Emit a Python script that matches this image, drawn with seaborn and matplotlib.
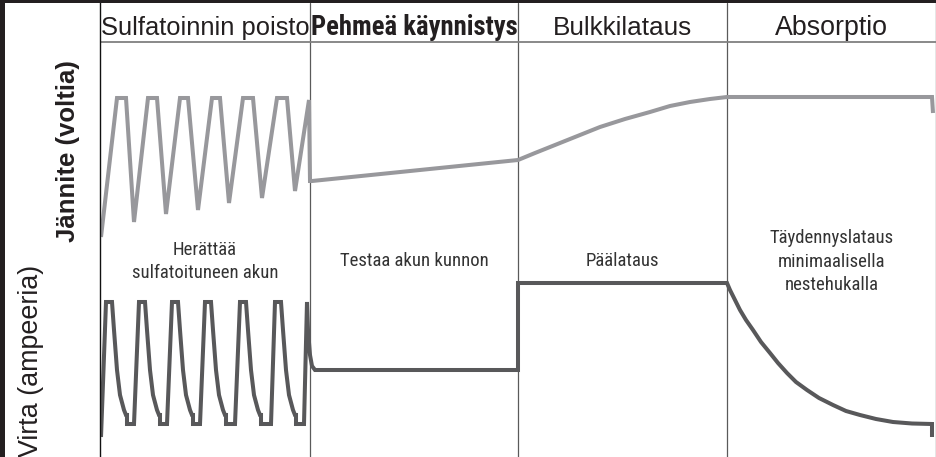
import os
import numpy as np
import pandas as pd
import matplotlib
matplotlib.use("Agg")
import matplotlib.pyplot as plt
import seaborn as sns
from matplotlib.patches import Rectangle
from matplotlib import font_manager as fm

# ---------------- data ----------------
phases = ["Sulfatoinnin poisto", "Pehmeä käynnistys", "Bulkkilataus", "Absorptio"]
phase_bold = [False, True, False, False]
phase_edges = [0, 210, 418, 627, 836]

# Voltage (relative level) over time (relative units)
volt_t = [1, 17, 26, 34, 48, 57, 66, 80, 88, 98, 112, 120, 129, 143, 153, 162,
          177, 187, 195, 209, 210, 212,
          418, 435, 450, 475, 500, 525, 550, 570, 590, 610, 627,
          832, 833]
volt_v = [220, 359, 359, 235, 359, 359, 243, 359, 359, 247, 359, 359, 254, 359, 359, 259,
          359, 359, 266, 357, 276, 276,
          297, 304, 310, 320, 330, 338, 345, 351, 355, 358, 360,
          360, 344]

# Current (relative level) over time
curr_t = [1,
          6, 12, 14, 17, 20, 24, 26, 27, 27, 34,
          39, 45, 47, 50, 53, 57, 59, 60, 60, 67,
          72, 78, 80, 83, 86, 90, 92, 93, 93, 100,
          105, 111, 113, 116, 119, 123, 125, 126, 126, 135,
          140, 146, 148, 151, 154, 158, 160, 161, 161, 171,
          175, 181, 183, 186, 189, 193, 195, 196, 196, 204,
          207, 208, 210, 212, 215, 418, 418, 627,
          630, 635, 640, 646, 653, 661, 670, 678, 687, 696, 707, 719, 733,
          746, 760, 776, 793, 812, 832, 832]
curr_v = [20,
          155, 155, 127, 87, 62, 47, 42, 42, 33, 33,
          155, 155, 127, 87, 62, 47, 42, 42, 33, 33,
          155, 155, 127, 87, 62, 47, 42, 42, 33, 33,
          155, 155, 127, 87, 62, 47, 42, 42, 33, 33,
          155, 155, 127, 87, 62, 47, 42, 42, 33, 33,
          155, 155, 127, 87, 62, 47, 42, 42, 33, 33,
          155, 127, 102, 91, 87, 87, 174, 174,
          167, 157, 147, 137, 127, 115, 104, 94, 84, 75, 67, 59, 52,
          46, 42, 38, 35, 33.5, 33, 20]

notes = [["Herättää", "sulfatoituneen akun"],
         ["Testaa akun kunnon"],
         ["Päälataus"],
         ["Täydennyslataus", "minimaalisella", "nestehukalla"]]
note_baselines = [[202, 179], [191], [191], [214, 190, 167]]

y_label_volt = "Jännite (voltia)"
y_label_curr = "Virta (ampeeria)"

# ---------------- fonts ----------------
sns.set_style("white")
plt.rcParams['font.family'] = ['Liberation Sans', 'DejaVu Sans']


def find_condensed(bold):
    prefs = ['liberationsansnarrow', 'arialnarrow', 'robotocondensed',
             'notosanscondensed', 'dejavusanscondensed', 'opensanscondensed']
    bad_common = ['italic', 'oblique', 'light', 'thin', 'medium', 'black',
                  'semibold', 'extrabold', 'demibold', 'heavy']
    found = {}
    for f in fm.fontManager.ttflist:
        base = os.path.basename(f.fname).lower().replace('-', '').replace('_', '').replace(' ', '')
        if any(b in base for b in bad_common):
            continue
        isbold = 'bold' in base
        if isbold != bold:
            continue
        for i, p in enumerate(prefs):
            if p in base:
                found.setdefault(i, f.fname)
    if found:
        return fm.FontProperties(fname=found[min(found)])
    return fm.FontProperties(family='Liberation Sans', weight='bold' if bold else 'normal')


COND = find_condensed(False)
COND_B = find_condensed(True)
REG = fm.FontProperties(family='Liberation Sans')
REG_B = fm.FontProperties(family='Liberation Sans', weight='bold')
TXT = '#231f20'

W, H = 937, 457
fig = plt.figure(figsize=(W / 100, H / 100), dpi=100)
fig.patch.set_facecolor('white')
ax = fig.add_axes([100 / W, 0, 836 / W, 454 / H])
ax.set_xlim(0, 836)
ax.set_ylim(0, 454)

volt_df = pd.DataFrame({"t": volt_t, "v": volt_v})
curr_df = pd.DataFrame({"t": curr_t, "v": curr_v})

sns.lineplot(data=volt_df, x="t", y="v", sort=False, estimator=None, ax=ax,
             color='#98989c', lw=2.9, solid_joinstyle='miter', solid_capstyle='butt')
sns.lineplot(data=curr_df, x="t", y="v", sort=False, estimator=None, ax=ax,
             color='#58585a', lw=2.9, solid_joinstyle='miter', solid_capstyle='butt')

for e in phase_edges[1:-1]:
    ax.axvline(e, color='#5a5a5a', lw=0.9, zorder=1)
ax.axhline(415, color='#808080', lw=1.3, zorder=1)

renderer = fig.canvas.get_renderer()


def fit(artist, target, vertical=False):
    bb = artist.get_window_extent(renderer)
    cur = bb.height if vertical else bb.width
    artist.set_fontsize(artist.get_fontsize() * target / cur)


header_w = [209, 207, 140, 113]
note_w = {"Testaa akun kunnon": 150, "sulfatoituneen akun": 145, "Täydennyslataus": 127}

for i, name in enumerate(phases):
    cx = (phase_edges[i] + phase_edges[i + 1]) / 2
    fp = (COND_B if phase_bold[i] else REG).copy()
    fp.set_size(19)
    t = ax.text(cx, 422, name, ha='center', va='baseline', fontproperties=fp, color=TXT)
    fit(t, header_w[i])
    for line, yb in zip(notes[i], note_baselines[i]):
        fp2 = COND.copy()
        fp2.set_size(14)
        t2 = ax.text(cx, yb, line, ha='center', va='baseline', fontproperties=fp2,
                     color='#333333')
        if line == "Testaa akun kunnon":
            ref_note = t2

# common annotation size fitted to the reference width of one note
fit(ref_note, note_w["Testaa akun kunnon"])
note_size = ref_note.get_fontsize()
for t in ax.texts:
    if t.get_color() == '#333333':
        t.set_fontsize(note_size)

ax.set_xticks([])
ax.set_yticks([])
ax.set_xlabel("")
ax.set_ylabel("")
for s in ['top', 'bottom']:
    ax.spines[s].set_visible(False)
ax.spines['left'].set_color('#111111')
ax.spines['left'].set_linewidth(1.0)
ax.spines['right'].set_color('#808080')
ax.spines['right'].set_linewidth(1.0)

fig.add_artist(Rectangle((0, 0), 5 / W, 1, transform=fig.transFigure,
                         color=TXT, lw=0, zorder=5))
fig.add_artist(Rectangle((0, 1 - 3 / H), 1, 3 / H, transform=fig.transFigure,
                         color=TXT, lw=0, zorder=5))

fpv = REG_B.copy()
fpv.set_size(18)
tv = fig.text(68 / W, 1 - 151 / H, y_label_volt, rotation=90, ha='center', va='center',
              fontproperties=fpv, color=TXT)
fit(tv, 182, vertical=True)
fpc = REG.copy()
fpc.set_size(19)
tc = fig.text(31 / W, 1 - 361 / H, y_label_curr, rotation=90, ha='center', va='center',
              fontproperties=fpc, color=TXT)
fit(tc, 193, vertical=True)

fig.savefig("out.png", dpi=100)
